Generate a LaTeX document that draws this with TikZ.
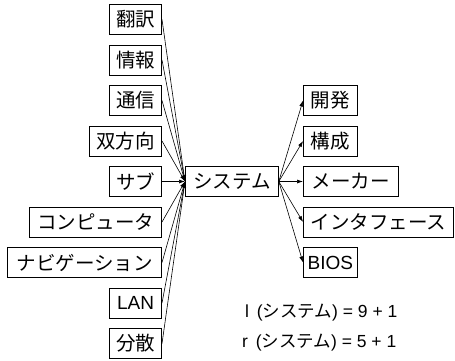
\documentclass[tikz,border=0pt]{standalone}
\usepackage{fontspec}
\setmainfont{Liberation Sans}
\newfontfamily\cjk{Noto Sans CJK JP}
\usetikzlibrary{arrows.meta}
\tikzset{
  box/.style={draw, line width=0.8pt, minimum height=30pt, inner sep=0pt, font=\fontsize{19.5}{21}\selectfont\cjk},
  latinbox/.style={box, font=\fontsize{19}{21}\selectfont},
  arr/.style={line width=0.6pt, -{Latex[length=6pt,width=4pt]}},
  eq/.style={font=\fontsize{17.5}{19}\selectfont, anchor=west, inner sep=0pt}
}
\begin{document}
\begin{tikzpicture}[x=1pt,y=1pt]
\useasboundingbox (0,0) rectangle (455,360);
% left column
\node[box, minimum width=52pt, anchor=east] (l1) at (162,{360-19.5}) {翻訳};
\node[box, minimum width=52pt, anchor=east] (l2) at (162,{360-60}) {情報};
\node[box, minimum width=52pt, anchor=east] (l3) at (162,{360-100.5}) {通信};
\node[box, minimum width=72pt, anchor=east] (l4) at (162,{360-141}) {双方向};
\node[box, minimum width=52pt, anchor=east] (l5) at (162,{360-181.5}) {サブ};
\node[box, minimum width=132pt, anchor=east] (l6) at (162,{360-222}) {コンピュータ};
\node[box, minimum width=154pt, anchor=east] (l7) at (162,{360-262.5}) {ナビゲーション};
\node[latinbox, minimum width=52pt, anchor=east] (l8) at (162,{360-303}) {LAN};
\node[box, minimum width=52pt, anchor=east] (l9) at (162,{360-343.5}) {分散};
% center
\node[box, minimum width=93pt, anchor=west] (c) at (185,{360-181.5}) {システム};
% right column
\node[box, minimum width=54pt, anchor=west] (r1) at (303,{360-100.5}) {開発};
\node[box, minimum width=54pt, anchor=west] (r2) at (303,{360-141}) {構成};
\node[box, minimum width=95pt, anchor=west] (r3) at (303,{360-181.5}) {メーカー};
\node[box, minimum width=150pt, anchor=west] (r4) at (303,{360-222}) {インタフェース};
\node[latinbox, minimum width=54pt, anchor=west] (r5) at (303,{360-262.5}) {BIOS};
% arrows
\foreach \i in {1,...,9} \draw[arr] (l\i.east) -- (c.west);
\foreach \i in {1,...,5} \draw[arr] (c.east) -- (r\i.west);
% equations
\node[eq] (e1) at (245,{360-313}) {l\, ({\cjk システム}) = 9 + 1};
\node[eq] (e2) at (242,{360-343}) {r\, ({\cjk システム}) = 5 + 1};
\end{tikzpicture}
\end{document}
